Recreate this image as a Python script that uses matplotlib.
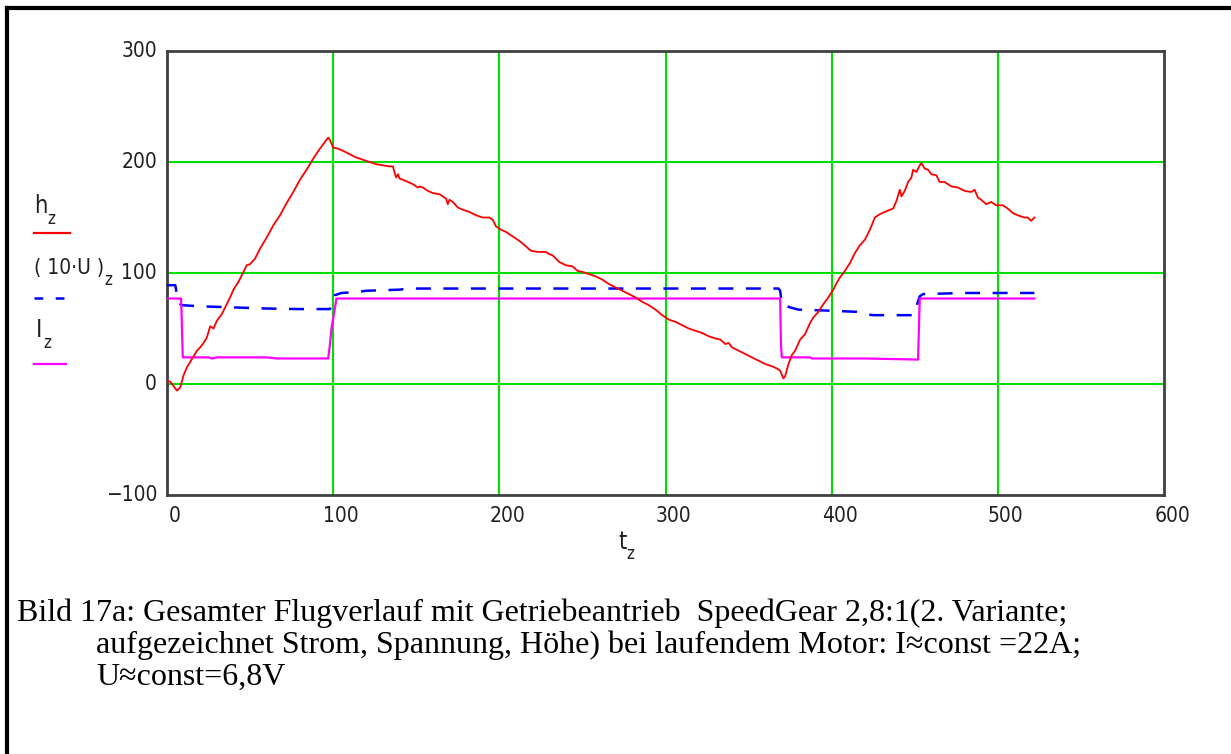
import matplotlib.pyplot as plt
from matplotlib.lines import Line2D

# Flugdaten: Zeit t in s, Hoehe h, 10*Spannung U, Strom I
t_h = [0, 2, 4, 6, 8, 10, 12, 14, 16, 18, 20, 22, 24, 26, 28, 30, 33, 36, 38, 40,
       43, 46, 48, 50, 53, 56, 60, 64, 68, 72, 76, 80, 84, 88, 92, 95, 97,
       98, 100, 103, 106, 110, 114, 118, 122, 126, 130, 134, 136, 137, 138, 139,
       140, 142, 145, 148, 151, 152, 154, 157, 160, 164, 166, 168, 169, 170, 172,
       175, 178, 182, 186, 190, 194, 196, 198, 201, 204, 208, 212, 216, 219, 223,
       228, 230, 232, 236, 240, 244, 247, 250, 254, 258, 262, 266, 270, 274, 278,
       282, 286, 290, 294, 298, 302, 306, 310, 314, 318, 322, 326, 330, 333, 336,
       338, 340, 344, 348, 352, 356, 360, 364, 367, 369, 371, 372, 374, 376, 378,
       381, 384, 387, 389, 392, 395, 398, 401, 403, 405, 408, 411, 414, 417, 420,
       423, 426, 429, 432, 435, 437, 439, 441, 442, 444, 446, 448, 449, 451, 453,
       454, 456, 458, 460, 463, 465, 468, 472, 476, 480, 484, 486, 488, 490, 493,
       496, 499, 503, 506, 509, 512, 516, 518, 520, 522]
h = [3, 2, -2, -6, -3, 8, 15, 20, 25, 30, 33, 37, 42, 52, 50, 57, 63, 72, 78, 85,
     92, 101, 107, 108, 113, 122, 132, 143, 152, 163, 173, 184, 193, 203, 212, 218, 222,
     220, 213, 212, 210, 207, 204, 202, 200, 198, 197, 196, 196, 190, 186, 189,
     185, 184, 182, 180, 177, 178, 177, 174, 172, 171, 169, 167, 162, 166, 164,
     159, 157, 155, 152, 150, 150, 148, 142, 139, 137, 133, 129, 124, 120, 119,
     119, 117, 116, 110, 107, 106, 102, 101, 99, 97, 94, 90, 87, 84, 81,
     78, 74, 71, 67, 62, 58, 56, 53, 50, 48, 46, 43, 41, 40, 36,
     37, 33, 30, 27, 24, 21, 18, 16, 14, 12, 5, 7, 18, 26, 30,
     40, 45, 55, 60, 65, 72, 78, 85, 91, 96, 102, 109, 118, 125, 130,
     139, 150, 153, 155, 157, 158, 165, 175, 169, 174, 182, 186, 193, 191, 197,
     199, 194, 193, 189, 188, 182, 182, 178, 177, 174, 173, 175, 168, 166, 162,
     164, 161, 161, 158, 154, 152, 150, 150, 147, 150]

t_u = [0, 5, 6, 7, 9, 20, 40, 60, 80, 98, 100, 101, 105, 115, 120, 140, 145, 200,
       300, 368, 369, 370, 375, 380, 400, 415, 420, 425, 449, 451, 453, 455, 480, 522]
u10 = [89, 89, 80, 73, 71, 70, 69, 68, 67.5, 67.5, 72, 80, 82, 83, 84, 85, 86, 86,
       86, 86, 84, 72, 69, 67, 66, 65, 63, 62, 62, 70, 79, 81, 82, 82]

t_i = [0, 8.5, 9, 9.5, 25, 27, 30, 60, 66, 97, 98, 99, 101, 102, 369, 369.5, 370,
       387, 388, 420, 452, 452.5, 453, 522]
strom = [77, 77, 50, 24, 24, 23, 24, 24, 23, 23, 35, 50, 68, 77, 77, 35, 24,
         24, 23, 23, 22, 50, 77, 77]

x_ticks = [0, 100, 200, 300, 400, 500, 600]
y_ticks = [-100, 0, 100, 200, 300]

zeilen = ["Bild 17a: Gesamter Flugverlauf mit Getriebeantrieb  SpeedGear 2,8:1(2. Variante;",
          "aufgezeichnet Strom, Spannung, Höhe) bei laufendem Motor: I\u2248const =22A;",
          "U\u2248const=6,8V"]

W, H = 1231, 754
fig = plt.figure(figsize=(W / 100, H / 100), dpi=100)
fig.patch.set_facecolor('white')

ax = fig.add_axes([167 / W, 1 - 495 / H, (1164 - 167) / W, (495 - 51) / H])

ax.plot(t_h, h, color='#ff0000', lw=1.3, zorder=4)
ax.plot(t_u, u10, color='#0000ff', lw=1.8, ls=(0, (6, 5)), zorder=3)
ax.plot(t_i, strom, color='#ff00ff', lw=1.6, zorder=3)

ax.set_xlim(0, 600)
ax.set_ylim(-100, 300)
ax.set_xticks(x_ticks)
ax.set_yticks(y_ticks)
ax.tick_params(length=0)
ax.set_xticklabels([])
ax.set_yticklabels([])

# Gitterlinien nur innen
for xv in x_ticks[1:-1]:
    ax.axvline(xv, color='#00e000', lw=1.5, zorder=1)
for yv in y_ticks[1:-1]:
    ax.axhline(yv, color='#00e000', lw=1.5, zorder=1)

for s in ax.spines.values():
    s.set_color('#404040')
    s.set_linewidth(2)

schmal = dict(family='DejaVu Sans', stretch='condensed', color='#202020')
for xv in x_ticks:
    ax.annotate(str(xv), (xv, -100), xytext=(8, -21), textcoords='offset pixels',
                ha='center', va='center', fontsize=15, **schmal)
for yv in y_ticks:
    lab = str(yv).replace('-', '\u2212')
    ax.annotate(lab, (0, yv), xytext=(-10, 0), textcoords='offset pixels',
                ha='right', va='center', fontsize=15, **schmal)

# Beschriftungen links mit Linienmustern
fig.text(34 / W, 1 - 206 / H, 'h', ha='left', va='center', fontsize=17, **schmal)
fig.text(47 / W, 1 - 219 / H, 'z', ha='left', va='center', fontsize=12, **schmal)
fig.add_artist(Line2D([34 / W, 70 / W], [1 - 233 / H, 1 - 233 / H], color='#ff0000', lw=1.6))

fig.text(34 / W, 1 - 268 / H, '( 10\u00b7U )', ha='left', va='center', fontsize=15, **schmal)
fig.text(104 / W, 1 - 280 / H, 'z', ha='left', va='center', fontsize=12, **schmal)
fig.add_artist(Line2D([34 / W, 70 / W], [1 - 298 / H, 1 - 298 / H], color='#0000ff',
                      lw=1.8, ls=(0, (3.5, 5))))

fig.text(36 / W, 1 - 330 / H, 'I', ha='left', va='center', fontsize=17, **schmal)
fig.text(43 / W, 1 - 343 / H, 'z', ha='left', va='center', fontsize=12, **schmal)
fig.add_artist(Line2D([34 / W, 66 / W], [1 - 364 / H, 1 - 364 / H], color='#ff00ff', lw=1.6))

fig.text(618 / W, 1 - 542 / H, 't', ha='left', va='center', fontsize=17, **schmal)
fig.text(626 / W, 1 - 554 / H, 'z', ha='left', va='center', fontsize=12, **schmal)

# Bildunterschrift, Folgezeilen eingerueckt
for i, zeile in enumerate(zeilen):
    x0 = 17 if i == 0 else 96
    fig.text(x0 / W, 1 - (621 + 32 * i) / H, zeile, ha='left', va='baseline',
             family='Liberation Serif', fontsize=23)

# Rahmen um die Abbildung
fig.add_artist(Line2D([7 / W, 1], [1 - 8 / H, 1 - 8 / H], color='black', lw=3))
fig.add_artist(Line2D([7 / W, 7 / W], [0, 1 - 8 / H], color='black', lw=3))

fig.savefig('out.png', dpi=100)
